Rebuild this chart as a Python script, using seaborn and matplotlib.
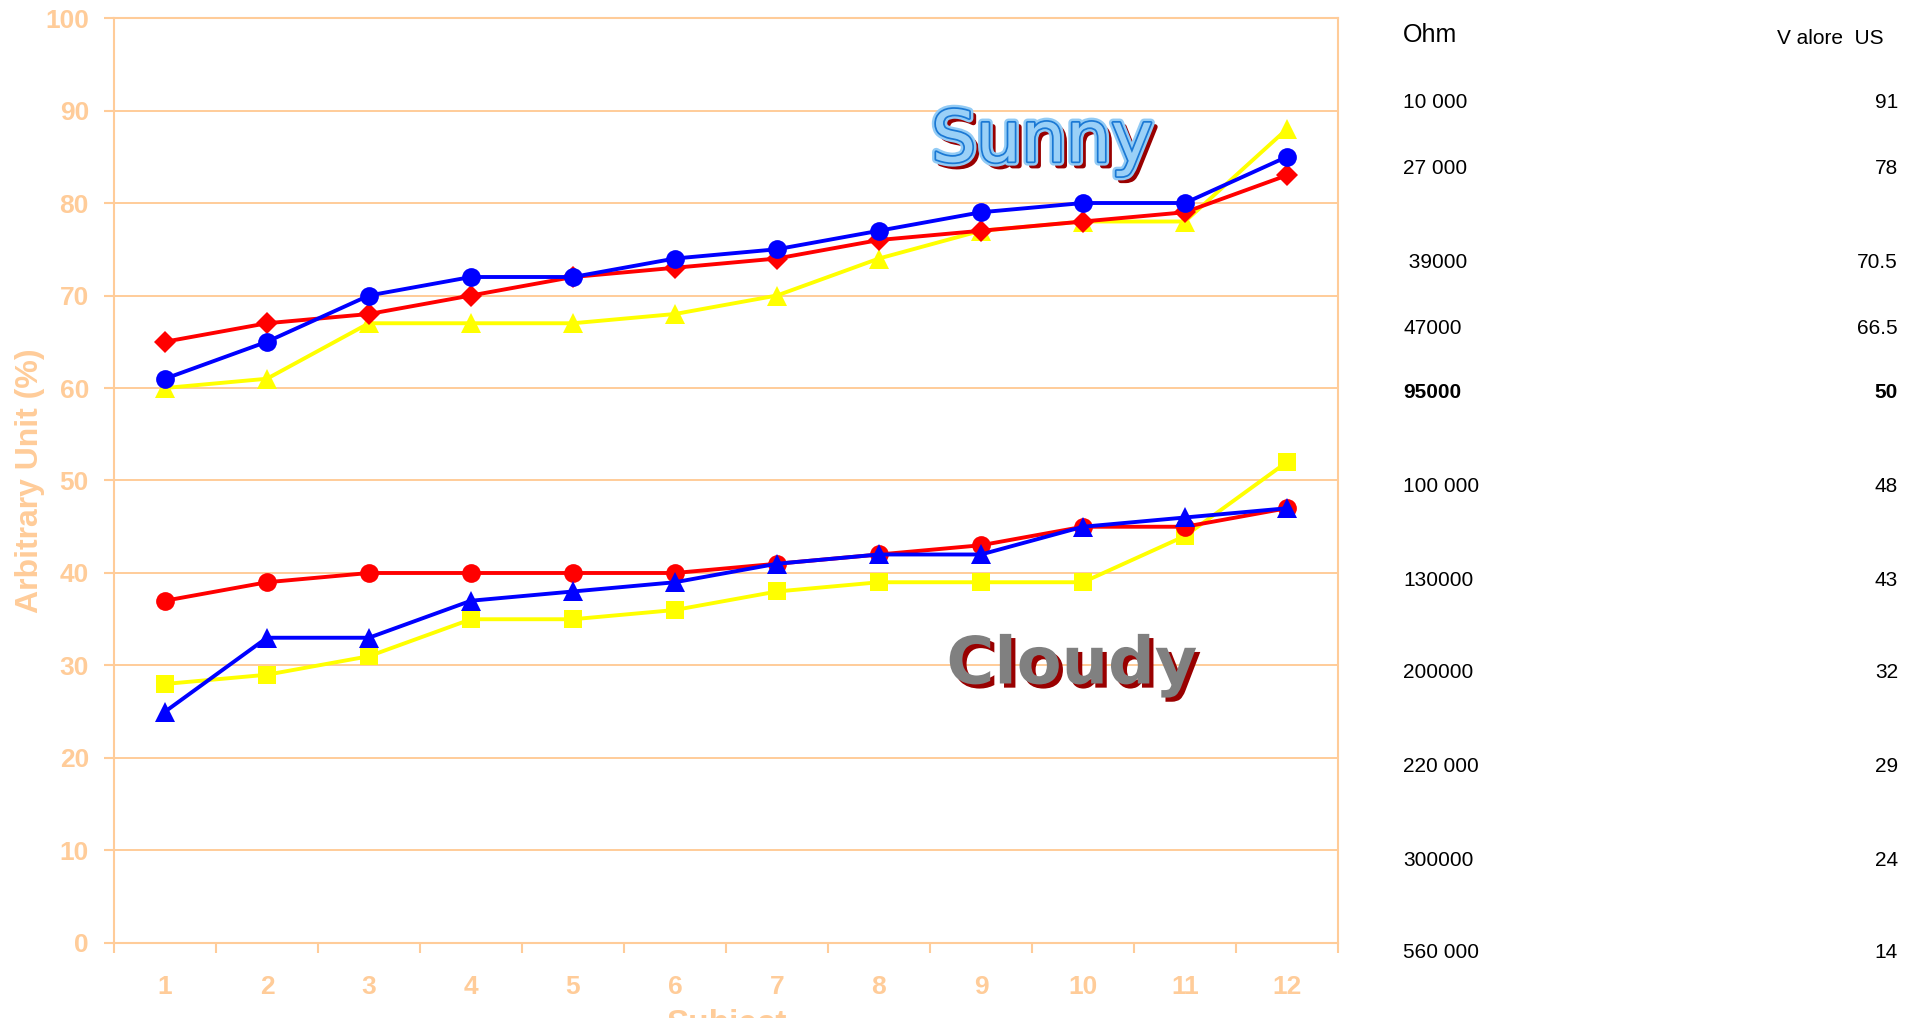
import numpy as np
import seaborn as sns
import matplotlib.pyplot as plt
import matplotlib.patheffects as pe

# dati
subjects = list(range(1, 13))

sunny_red = [65, 67, 68, 70, 72, 73, 74, 76, 77, 78, 79, 83]
sunny_blue = [61, 65, 70, 72, 72, 74, 75, 77, 79, 80, 80, 85]
sunny_yellow = [60, 61, 67, 67, 67, 68, 70, 74, 77, 78, 78, 88]

cloudy_red = [37, 39, 40, 40, 40, 40, 41, 42, 43, 45, 45, 47]
cloudy_blue = [25, 33, 33, 37, 38, 39, 41, 42, 42, 45, 46, 47]
cloudy_yellow = [28, 29, 31, 35, 35, 36, 38, 39, 39, 39, 44, 52]

# tabella a destra
ohm_labels = ["10 000", "27 000", " 39000", "47000", "95000", "100 000",
              "130000", "200000", "220 000", "300000", "560 000"]
us_values = ["91", "78", "70.5", "66.5", "50", "48", "43", "32", "29", "24", "14"]
bold_row = "95000"

peach = "#FFCC99"

sns.set_theme(style="white")
plt.rcParams["font.family"] = ["Liberation Sans", "DejaVu Sans"]

fig = plt.figure(figsize=(19.18, 10.18), dpi=100)
ax = fig.add_axes([0.0594, 0.0737, 0.6382, 0.9086])

# ordine: giallo sotto, poi rosso, poi blu
lw = 2.8
sns.lineplot(x=subjects, y=sunny_yellow, ax=ax, color="#FFFF00", marker="^",
             markersize=15, markeredgewidth=0, linewidth=lw)
sns.lineplot(x=subjects, y=sunny_red, ax=ax, color="#FF0000", marker="D",
             markersize=11.5, markeredgewidth=0, linewidth=lw)
sns.lineplot(x=subjects, y=sunny_blue, ax=ax, color="#0000FF", marker="o",
             markersize=13.5, markeredgewidth=0, linewidth=lw)

sns.lineplot(x=subjects, y=cloudy_yellow, ax=ax, color="#FFFF00", marker="s",
             markersize=12.5, markeredgewidth=0, linewidth=lw)
sns.lineplot(x=subjects, y=cloudy_red, ax=ax, color="#FF0000", marker="o",
             markersize=13.5, markeredgewidth=0, linewidth=lw)
sns.lineplot(x=subjects, y=cloudy_blue, ax=ax, color="#0000FF", marker="^",
             markersize=15, markeredgewidth=0, linewidth=lw)

ax.set_xlim(0.5, 12.5)
ax.set_ylim(0, 100)
ax.set_xticks(subjects)
ax.set_xticks(np.arange(0.5, 13, 1), minor=True)
ax.set_yticks(range(0, 101, 10))

ax.tick_params(axis="x", which="major", length=0, pad=23, labelsize=19,
               labelcolor=peach)
ax.tick_params(axis="x", which="minor", length=7, width=1.5, color=peach,
               bottom=True, direction="out")
ax.tick_params(axis="y", length=7, width=1.5, color=peach, left=True,
               direction="out", pad=11, labelsize=19, labelcolor=peach)
for lab in ax.get_xticklabels() + ax.get_yticklabels():
    lab.set_fontweight("bold")

ax.yaxis.grid(True, color=peach, linewidth=1.4)
ax.xaxis.grid(False)
for sp in ax.spines.values():
    sp.set_color(peach)
    sp.set_linewidth(1.5)

ax.set_ylabel("Arbitrary Unit (%)", fontsize=23, fontweight="bold", color=peach)
ax.yaxis.set_label_coords(-0.056, 0.5)
ax.set_xlabel("Subject", fontsize=24, fontweight="bold", color=peach)
ax.xaxis.set_label_coords(0.5, -0.071)

# scritte Sunny / Cloudy
ax.text(9.6, 86.6, "Sunny", fontsize=51, family="DejaVu Sans",
        color="#9AD0F7", ha="center", va="center",
        path_effects=[pe.Stroke(offset=(3, -3), linewidth=4, foreground="#990000"),
                      pe.Stroke(linewidth=6, foreground="#92CBF5"),
                      pe.Stroke(linewidth=2.5, foreground="#1A78D4"),
                      pe.Normal()])
ax.text(9.89, 30.0, "Cloudy", fontsize=47, family="DejaVu Sans",
        fontweight="bold", color="#808080", ha="center", va="center",
        path_effects=[pe.SimplePatchShadow(offset=(3, -3), shadow_rgbFace="#990000",
                                           alpha=1.0),
                      pe.Normal()])

# tabella Ohm / valore US
row_px = [102, 168, 262, 328, 392, 487, 580, 673, 767, 860, 953]
fig.text(0.7315, 1 - 35 / 1018, "Ohm", fontsize=18, color="black",
         ha="left", va="center")
fig.text(0.9823, 1 - 38 / 1018, "V alore  US", fontsize=15, color="black",
         ha="right", va="center")
for lab, val, ypx in zip(ohm_labels, us_values, row_px):
    w = "bold" if lab == bold_row else "normal"
    fig.text(0.7315, 1 - ypx / 1018, lab, fontsize=15, color="black",
             ha="left", va="center", fontweight=w)
    fig.text(0.9896, 1 - ypx / 1018, val, fontsize=15, color="black",
             ha="right", va="center", fontweight=w)

fig.savefig("out.png", dpi=100)
